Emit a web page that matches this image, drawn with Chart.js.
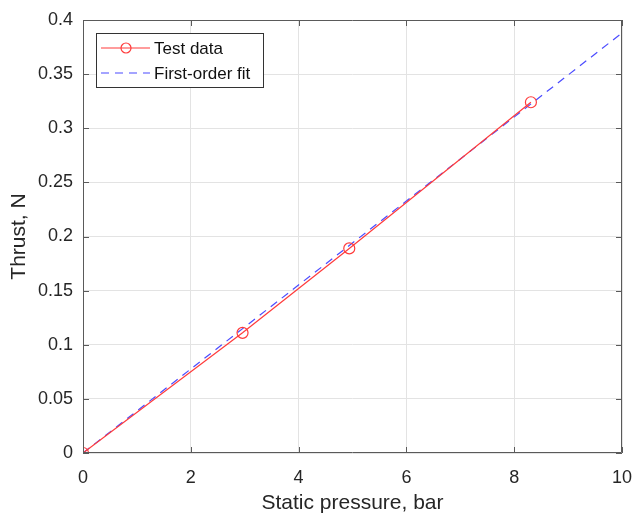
<!DOCTYPE html>
<html>
<head>
<meta charset="utf-8">
<script src="https://cdn.jsdelivr.net/npm/chart.js@4"></script>
<style>
  html, body { margin: 0; padding: 0; background: #fff; }
  .chart-container { position: relative; width: 633px; height: 516px; }
</style>
</head>
<body>
<div class="chart-container"><canvas id="thrustChart"></canvas></div>
<script>
// measured values
const testPressure = [0, 2.96, 4.94, 8.31];
const testThrust = [0, 0.111, 0.189, 0.324];
const fitPressure = [0, 10];
const fitThrust = [0, 0.388];
const xTicks = [0, 2, 4, 6, 8, 10];
const yTicks = [0, 0.05, 0.1, 0.15, 0.2, 0.25, 0.3, 0.35, 0.4];
const yTickLabels = ['0', '0.05', '0.1', '0.15', '0.2', '0.25', '0.3', '0.35', '0.4'];

const axisColor = '#5a5a5a';
const textColor = '#262626';
const fontFamily = '"Liberation Sans", Arial, sans-serif';

// box around the axes with inward ticks, like the original
const boxPlugin = {
    id: 'box',
    afterDatasetsDraw(chart) {
        const { ctx, chartArea: a, scales } = chart;
        ctx.save();
        ctx.strokeStyle = axisColor;
        ctx.lineWidth = 1;
        ctx.beginPath();
        ctx.rect(a.left + 0.5, a.top + 0.5, a.right - a.left - 1, a.bottom - a.top - 1);
        xTicks.forEach(v => {
            const x = Math.round(scales.x.getPixelForValue(v)) + 0.5;
            ctx.moveTo(x, a.bottom); ctx.lineTo(x, a.bottom - 6);
            ctx.moveTo(x, a.top); ctx.lineTo(x, a.top + 6);
        });
        yTicks.forEach(v => {
            const y = Math.round(scales.y.getPixelForValue(v)) + 0.5;
            ctx.moveTo(a.left, y); ctx.lineTo(a.left + 6, y);
            ctx.moveTo(a.right, y); ctx.lineTo(a.right - 6, y);
        });
        ctx.stroke();
        ctx.restore();
    }
};

// legend box in the upper-left corner
const legendPlugin = {
    id: 'boxLegend',
    afterDraw(chart) {
        const ctx = chart.ctx;
        const left = 96, top = 33, w = 167, h = 54;
        ctx.save();
        ctx.fillStyle = '#fff';
        ctx.fillRect(left, top, w, h);
        ctx.strokeStyle = '#333';
        ctx.lineWidth = 1;
        ctx.strokeRect(left + 0.5, top + 0.5, w, h);
        ctx.font = '17px ' + fontFamily;
        ctx.textBaseline = 'middle';
        chart.data.datasets.forEach((ds, i) => {
            const y = top + 15 + i * 25;
            ctx.strokeStyle = ds.borderColor;
            ctx.lineWidth = 1.2;
            ctx.setLineDash(ds.borderDash || []);
            ctx.beginPath();
            ctx.moveTo(left + 5, y);
            ctx.lineTo(left + 54, y);
            ctx.stroke();
            ctx.setLineDash([]);
            if (ds.pointRadius > 0) {
                ctx.beginPath();
                ctx.arc(left + 30, y, 5, 0, Math.PI * 2);
                ctx.stroke();
            }
            ctx.fillStyle = '#111';
            ctx.fillText(ds.label, left + 58, y + 1);
        });
        ctx.restore();
    }
};

const ctx = document.getElementById('thrustChart').getContext('2d');
const thrustChart = new Chart(ctx, {
    type: 'scatter',
    data: {
        datasets: [{
            label: 'Test data',
            data: testPressure.map((x, i) => ({ x: x, y: testThrust[i] })),
            showLine: true,
            borderColor: '#ff3b3b',
            backgroundColor: 'rgba(0,0,0,0)',
            borderWidth: 1.2,
            pointRadius: 5.5,
            pointBorderWidth: 1.2,
            pointBorderColor: '#ff3b3b',
            pointBackgroundColor: 'rgba(0,0,0,0)'
        }, {
            label: 'First-order fit',
            data: fitPressure.map((x, i) => ({ x: x, y: fitThrust[i] })),
            showLine: true,
            borderColor: '#4b4bff',
            borderDash: [8, 6],
            borderWidth: 1.2,
            pointRadius: 0
        }]
    },
    options: {
        responsive: true,
        maintainAspectRatio: false,
        animation: false,
        layout: { padding: { left: 0, right: 11, top: 20, bottom: 0 } },
        scales: {
            x: {
                type: 'linear',
                min: 0,
                max: 10,
                afterBuildTicks: axis => { axis.ticks = xTicks.map(v => ({ value: v })); },
                afterFit: axis => {
                    axis.height = 63;
                    axis.paddingLeft = 0;
                    axis.paddingRight = 0;
                },
                border: { display: false },
                grid: { color: '#e3e3e3', drawTicks: false },
                ticks: {
                    color: textColor,
                    padding: 14,
                    maxRotation: 0,
                    font: { family: fontFamily, size: 18 }
                },
                title: {
                    display: true,
                    text: 'Static pressure, bar',
                    color: textColor,
                    padding: { top: 0, bottom: 0 },
                    font: { family: fontFamily, size: 21 }
                }
            },
            y: {
                min: 0,
                max: 0.4,
                afterBuildTicks: axis => { axis.ticks = yTicks.map(v => ({ value: v })); },
                afterFit: axis => {
                    axis.width = 83;
                    axis.paddingTop = 0;
                    axis.paddingBottom = 0;
                },
                border: { display: false },
                grid: { color: '#e3e3e3', drawTicks: false },
                ticks: {
                    color: textColor,
                    padding: 10,
                    font: { family: fontFamily, size: 18 },
                    callback: (value) => yTickLabels[yTicks.indexOf(value)] ?? ''
                },
                title: {
                    display: true,
                    text: 'Thrust, N',
                    color: textColor,
                    padding: { top: 7, bottom: 0 },
                    font: { family: fontFamily, size: 21 }
                }
            }
        },
        plugins: {
            legend: { display: false },
            tooltip: { enabled: false }
        }
    },
    plugins: [boxPlugin, legendPlugin]
});
</script>
</body>
</html>
